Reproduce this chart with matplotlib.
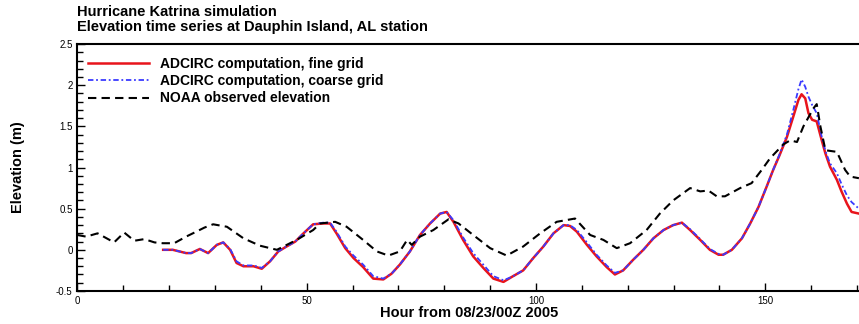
import numpy as np
import matplotlib
matplotlib.use("Agg")
import matplotlib.pyplot as plt
from matplotlib.ticker import MultipleLocator

plt.rcParams['font.family'] = ['Liberation Sans', 'DejaVu Sans']

# ADCIRC fine grid
fine_t = [18.7, 20.8, 23.7, 24.8, 26.7, 28.5, 30.4, 31.8, 33.3, 34.7, 36.2, 38.4, 40.2, 42.0,
          43.8, 45.6, 47.5, 49.3, 51.4, 53.6, 55.1, 56.5, 58.4, 60.2, 62.3, 64.5, 66.7, 68.5,
          70.3, 72.5, 74.7, 76.9, 79.1, 80.5, 82.0, 84.1, 86.3, 88.5, 90.7, 92.9, 94.7, 97.2,
          99.4, 101.6, 103.8, 106.0, 107.4, 108.9, 111.1, 113.2, 115.4, 117.2, 119.0, 121.2,
          123.4, 125.6, 127.8, 129.9, 131.8, 133.6, 135.8, 137.9, 139.8, 140.8, 142.7, 144.9,
          146.7, 148.5, 150.3, 151.7, 153.1, 154.7, 156.1, 157.2, 157.9, 158.7, 159.4, 160.2,
          161.2, 162.3, 163.1, 164.1, 165.6, 166.6, 167.8, 168.8, 170.4]
fine_y = [0.0, 0.0, -0.04, -0.04, 0.01, -0.04, 0.06, 0.09, 0.0, -0.16, -0.20, -0.20, -0.23, -0.14,
          -0.02, 0.04, 0.10, 0.20, 0.31, 0.32, 0.32, 0.20, 0.02, -0.10, -0.21, -0.35, -0.36, -0.29,
          -0.18, -0.02, 0.18, 0.32, 0.44, 0.46, 0.34, 0.12, -0.08, -0.22, -0.35, -0.39, -0.33, -0.25,
          -0.10, 0.04, 0.20, 0.30, 0.29, 0.22, 0.06, -0.08, -0.21, -0.30, -0.25, -0.12,
          0.0, 0.14, 0.24, 0.30, 0.33, 0.24, 0.12, 0.0, -0.06, -0.06, 0.0, 0.14,
          0.32, 0.52, 0.77, 0.97, 1.15, 1.37, 1.62, 1.82, 1.89, 1.84, 1.66, 1.58,
          1.56, 1.33, 1.17, 1.01, 0.85, 0.71, 0.56, 0.46, 0.44]

# ADCIRC coarse grid
coarse_t = fine_t
coarse_y = [0.0, 0.0, -0.04, -0.04, 0.01, -0.04, 0.06, 0.09, 0.01, -0.14, -0.19, -0.19, -0.22, -0.14,
            -0.02, 0.04, 0.10, 0.20, 0.31, 0.33, 0.33, 0.22, 0.04, -0.07, -0.18, -0.32, -0.35, -0.29,
            -0.18, -0.02, 0.18, 0.32, 0.44, 0.46, 0.36, 0.15, -0.04, -0.18, -0.32, -0.37, -0.33, -0.25,
            -0.10, 0.04, 0.20, 0.30, 0.30, 0.24, 0.09, -0.06, -0.19, -0.28, -0.25, -0.12,
            0.0, 0.14, 0.24, 0.30, 0.33, 0.25, 0.13, 0.01, -0.05, -0.06, 0.0, 0.14,
            0.32, 0.52, 0.77, 0.97, 1.16, 1.40, 1.70, 1.95, 2.07, 1.98, 1.86, 1.76,
            1.66, 1.37, 1.20, 1.05, 0.93, 0.80, 0.66, 0.58, 0.50]

# NOAA observed
noaa_t = [0, 1.9, 4.4, 8.0, 10.2, 12.4, 14.6, 16.8, 18.6, 21.1, 23.7, 25.9, 27.7, 29.6, 32.6,
          36.2, 39.8, 43.5, 47.8, 51.4, 52.9, 56.2, 58.7, 62.3, 65.3, 67.8, 70.3, 71.9, 72.9,
          74.7, 77.6, 80.9, 83.1, 86.3, 90.0, 93.6, 97.2, 100.9, 104.5, 108.5, 111.8, 114.7,
          117.6, 120.5, 124.1, 127.0, 129.9, 133.6, 135.8, 137.6, 139.4, 141.2, 144.5, 147.0,
          149.2, 151.0, 153.9, 155.4, 156.9, 158.3, 160.5, 161.2, 162.0, 163.1, 165.6, 167.4,
          168.5, 170.4]
noaa_y = [0.18, 0.16, 0.20, 0.09, 0.21, 0.11, 0.13, 0.09, 0.08, 0.08, 0.16, 0.22, 0.27, 0.31, 0.28,
          0.14, 0.05, 0.0, 0.12, 0.24, 0.32, 0.34, 0.28, 0.12, -0.02, -0.07, -0.02, 0.12, 0.06,
          0.16, 0.24, 0.37, 0.32, 0.18, 0.02, -0.07, 0.04, 0.20, 0.34, 0.38, 0.18, 0.12,
          0.02, 0.08, 0.24, 0.44, 0.60, 0.75, 0.71, 0.72, 0.65, 0.65, 0.75, 0.81,
          0.97, 1.11, 1.28, 1.33, 1.31, 1.50, 1.72, 1.77, 1.50, 1.21, 1.19, 0.97,
          0.89, 0.87]

fig = plt.figure(figsize=(8.59, 3.24), dpi=100)
ax = fig.add_axes([0.0901, 0.102, 0.913, 0.762])

ax.plot(fine_t, fine_y, color='#e8141c', lw=1.8, label='ADCIRC computation, fine grid')
ax.plot(coarse_t, coarse_y, color='#3a3aff', lw=1.3, ls=(0, (3, 1.5, 1, 1.5)),
        label='ADCIRC computation, coarse grid')
ax.plot(noaa_t, noaa_y, color='black', lw=1.5, ls=(0, (4, 2.5)), label='NOAA observed elevation')

ax.set_xlim(0, 171)
ax.set_ylim(-0.5, 2.5)
ax.xaxis.set_major_locator(MultipleLocator(50))
ax.xaxis.set_minor_locator(MultipleLocator(10))
ax.yaxis.set_major_locator(MultipleLocator(0.5))
ax.yaxis.set_minor_locator(MultipleLocator(0.1))
ax.set_yticks([-0.5, 0, 0.5, 1, 1.5, 2, 2.5])
ax.set_yticklabels(['-0.5', '0', '0.5', '1', '1.5', '2', '2.5'])
ax.tick_params(which='both', direction='in', labelsize=7, top=False, right=False)
ax.tick_params(which='major', length=6, width=1)
ax.tick_params(which='minor', length=4, width=1)
ax.spines['right'].set_visible(False)
for s in ['left', 'top', 'bottom']:
    ax.spines[s].set_linewidth(1.5)

ax.set_xlabel('Hour from 08/23/00Z 2005', fontsize=10.5, fontweight='bold', labelpad=0)
ax.set_ylabel('Elevation (m)', fontsize=10.5, fontweight='bold', labelpad=22)

fig.text(0.0896, 0.950, 'Hurricane Katrina simulation', fontsize=10.5, fontweight='bold',
         va='baseline', ha='left')
fig.text(0.0896, 0.903, 'Elevation time series at Dauphin Island, AL station', fontsize=10.5,
         fontweight='bold', va='baseline', ha='left')

ax.legend(loc='upper left', bbox_to_anchor=(-0.003, 0.997), frameon=False,
          handlelength=4.4, handletextpad=0.8, labelspacing=0.22,
          prop={'weight': 'bold', 'size': 10})

fig.savefig('out.png', dpi=100)
